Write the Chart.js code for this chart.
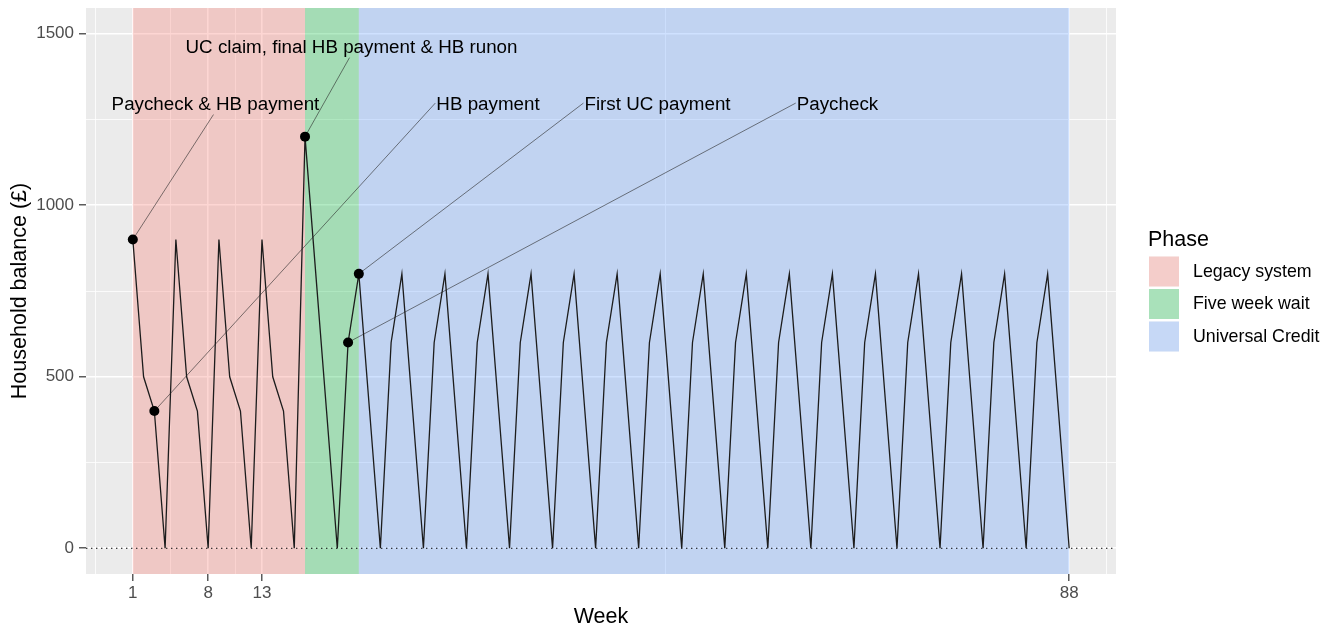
<!DOCTYPE html>
<html><head><meta charset="utf-8">
<script src="https://cdn.jsdelivr.net/npm/chart.js@4.4.1/dist/chart.umd.min.js"></script>
<style>html,body{margin:0;padding:0;background:#fff;}#wrap{width:1333px;height:630px;position:relative;}</style>
</head><body><div id="wrap"><canvas id="c" width="1333" height="630"></canvas></div>
<script>
// ---------- data ----------
const weeks = [1,2,3,4,5,6,7,8,9,10,11,12,13,14,15,16,17,18,19,20,21,22,23,24,25,26,27,28,29,30,
  31,32,33,34,35,36,37,38,39,40,41,42,43,44,45,46,47,48,49,50,51,52,53,54,55,56,57,58,59,60,
  61,62,63,64,65,66,67,68,69,70,71,72,73,74,75,76,77,78,79,80,81,82,83,84,85,86,87,88];
const balance = [
  900,500,400,0, 900,500,400,0, 900,500,400,0, 900,500,400,0,
  1200,800,400,0,600,800,
  400,0,600,800, 400,0,600,800, 400,0,600,800, 400,0,600,800,
  400,0,600,800, 400,0,600,800, 400,0,600,800, 400,0,600,800,
  400,0,600,800, 400,0,600,800, 400,0,600,800, 400,0,600,800,
  400,0,600,800, 400,0,600,800, 400,0,600,800, 400,0,600,800,
  400,0];
const xTickWeeks = [1, 8, 13, 88];
const xMinorWeeks = [-2.5, 4.5, 10.5, 50.5, 91.5];
const yTickValues = [0, 500, 1000, 1500];
const yMinorValues = [250, 750, 1250];
const phaseNames = ['Legacy system', 'Five week wait', 'Universal Credit'];
const phaseStart = [1, 17, 22];
const phaseEnd = [17, 22, 88];
const labelTexts = ['Paycheck & HB payment', 'UC claim, final HB payment & HB runon', 'HB payment', 'First UC payment', 'Paycheck'];
const labelPointWeek = [1, 17, 3, 22, 21];
const labelWeek = [8.68, 21.32, 34.0, 49.75, 66.47];
const labelValue = [1292, 1458, 1292, 1292, 1292];
const xLimits = [-3.35, 92.35];
const yLimits = [-75, 1575];

// ---------- styles ----------
const FONT = '"Liberation Sans", Arial, sans-serif';
const phaseColors = ['rgba(248,118,109,0.3)', 'rgba(0,186,56,0.3)', 'rgba(97,156,255,0.3)'];

const lineData = weeks.map((w, i) => ({x: w, y: balance[i]}));
const pointData = labelPointWeek.map(w => ({x: w, y: balance[weeks.indexOf(w)]}));
const zeroData = [{x: xLimits[0], y: 0}, {x: xLimits[1], y: 0}];

const isMajorX = v => xTickWeeks.includes(v);
const isMajorY = v => yTickValues.includes(v);

const panelPlugin = {
  id: 'panel',
  beforeDraw(chart) {
    const {ctx, chartArea: a} = chart;
    ctx.save();
    ctx.fillStyle = '#ffffff';
    ctx.fillRect(0, 0, chart.width, chart.height);
    ctx.fillStyle = '#EBEBEB';
    ctx.fillRect(a.left, a.top, a.right - a.left, a.bottom - a.top);
    ctx.restore();
  },
  beforeDatasetsDraw(chart) {
    const {ctx, chartArea: a, scales} = chart;
    ctx.save();
    ctx.beginPath(); ctx.rect(a.left, a.top, a.right - a.left, a.bottom - a.top); ctx.clip();
    phaseNames.forEach((n, i) => {
      const x0 = scales.x.getPixelForValue(phaseStart[i]);
      const x1 = scales.x.getPixelForValue(phaseEnd[i]);
      ctx.fillStyle = phaseColors[i];
      ctx.fillRect(x0, a.top, x1 - x0, a.bottom - a.top);
    });
    // leader segments
    ctx.font = '18.8px ' + FONT;
    ctx.strokeStyle = 'rgba(40,40,40,0.75)';
    ctx.lineWidth = 0.8;
    labelTexts.forEach((t, i) => {
      const px = scales.x.getPixelForValue(labelPointWeek[i]);
      const py = scales.y.getPixelForValue(balance[weeks.indexOf(labelPointWeek[i])]);
      const cx = scales.x.getPixelForValue(labelWeek[i]);
      const cy = scales.y.getPixelForValue(labelValue[i]);
      const w = ctx.measureText(t).width;
      let ex, ey;
      if (px >= cx - w / 2 && px <= cx + w / 2) { ex = cx - 2; ey = cy + 9.5; }
      else { ex = cx - w / 2 - 1; ey = cy - 2; }
      ctx.beginPath(); ctx.moveTo(px, py); ctx.lineTo(ex, ey); ctx.stroke();
    });
    ctx.restore();
  },
  afterDraw(chart) {
    const {ctx, chartArea: a, scales} = chart;
    ctx.save();
    ctx.fillStyle = '#000';
    ctx.font = '18.8px ' + FONT;
    ctx.textAlign = 'center';
    ctx.textBaseline = 'middle';
    labelTexts.forEach((t, i) => {
      ctx.fillText(t, scales.x.getPixelForValue(labelWeek[i]), scales.y.getPixelForValue(labelValue[i]));
    });
    // legend
    const lx = a.right + 32;
    ctx.textAlign = 'left';
    ctx.font = '21.5px ' + FONT;
    ctx.fillText('Phase', lx, 240);
    ctx.font = '17.8px ' + FONT;
    phaseNames.forEach((n, i) => {
      const ky = 256.5 + i * 32.5;
      ctx.fillStyle = '#F2F2F2';
      ctx.fillRect(lx + 1, ky, 30, 30);
      ctx.fillStyle = phaseColors[i];
      ctx.fillRect(lx + 1, ky, 30, 30);
      ctx.fillStyle = '#000';
      ctx.fillText(n, lx + 45, ky + 15.5);
    });
    ctx.restore();
  }
};

new Chart(document.getElementById('c'), {
  type: 'line',
  data: {
    datasets: [
      {data: pointData, showLine: false, pointRadius: 5, pointBackgroundColor: '#000', pointBorderColor: '#000', pointBorderWidth: 0, order: 0},
      {data: lineData, borderColor: '#1c1c1c', borderWidth: 1.3, pointRadius: 0, tension: 0, order: 1},
      {data: zeroData, borderColor: '#000', borderWidth: 1.2, borderDash: [1.4, 3.6], pointRadius: 0, order: 2}
    ]
  },
  options: {
    responsive: false,
    animation: false,
    devicePixelRatio: 1,
    events: [],
    layout: {padding: {left: 0, right: 217, top: 8, bottom: 0}},
    plugins: {legend: {display: false}, tooltip: {enabled: false}},
    scales: {
      x: {
        type: 'linear', min: xLimits[0], max: xLimits[1],
        afterBuildTicks: s => { s.ticks = xTickWeeks.concat(xMinorWeeks).sort((p, q) => p - q).map(v => ({value: v})); },
        afterFit: s => { s.height = 56; s.paddingLeft = 0; s.paddingRight = 0; },
        ticks: {autoSkip: false, maxRotation: 0, padding: 2, color: '#4D4D4D', font: {family: FONT, size: 17},
          callback: v => isMajorX(v) ? String(v) : ''},
        grid: {color: '#ffffff', lineWidth: c => isMajorX(c.tick.value) ? 1.6 : 0.8,
          tickColor: c => isMajorX(c.tick.value) ? '#333333' : 'rgba(0,0,0,0)', tickLength: 7, tickWidth: 1.2},
        border: {display: false},
        title: {display: true, text: 'Week', color: '#000', font: {family: FONT, size: 21.5}, padding: {top: 0, bottom: 0}}
      },
      y: {
        type: 'linear', min: yLimits[0], max: yLimits[1],
        afterBuildTicks: s => { s.ticks = yTickValues.concat(yMinorValues).sort((p, q) => p - q).map(v => ({value: v})); },
        afterFit: s => { s.width = 86; s.paddingTop = 0; s.paddingBottom = 0; },
        ticks: {autoSkip: false, padding: 5, color: '#4D4D4D', font: {family: FONT, size: 17},
          callback: v => isMajorY(v) ? String(v) : ''},
        grid: {color: '#ffffff', lineWidth: c => isMajorY(c.tick.value) ? 1.6 : 0.8,
          tickColor: c => isMajorY(c.tick.value) ? '#333333' : 'rgba(0,0,0,0)', tickLength: 7, tickWidth: 1.2},
        border: {display: false},
        title: {display: true, text: 'Household balance (£)', color: '#000', font: {family: FONT, size: 21.5}, padding: {top: 7, bottom: 0}}
      }
    }
  },
  plugins: [panelPlugin]
});
</script></body></html>
